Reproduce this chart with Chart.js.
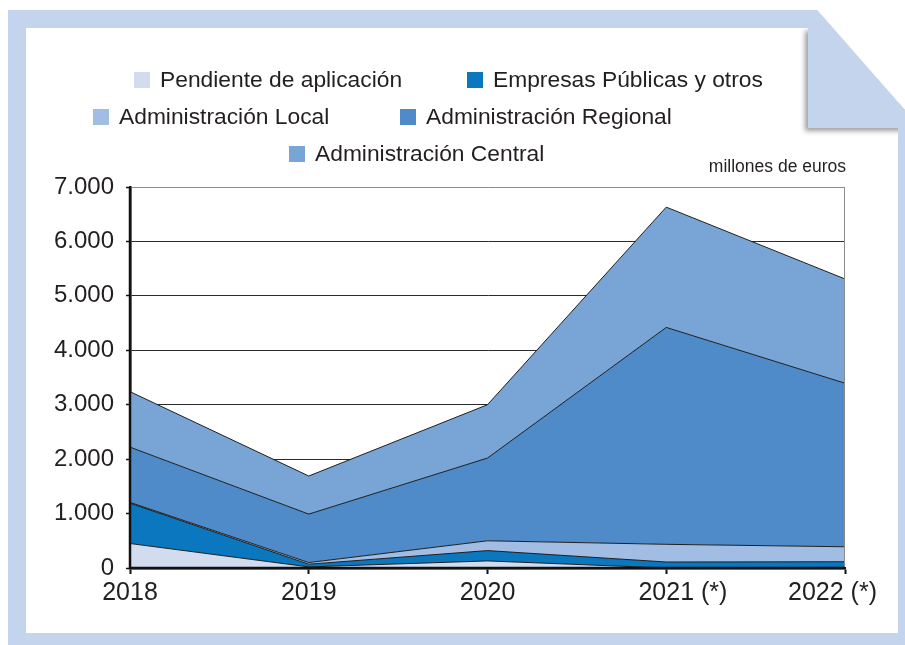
<!DOCTYPE html>
<html>
<head>
<meta charset="utf-8">
<script src="https://cdn.jsdelivr.net/npm/chart.js@4/dist/chart.umd.min.js"></script>
<style>
  html, body { margin: 0; padding: 0; background: #fff; }
  canvas { display: block; }
</style>
</head>
<body>
<canvas id="chart" width="905" height="645"></canvas>
<script>
// Years on the horizontal axis
const years = ['2018', '2019', '2020', '2021 (*)', '2022 (*)'];

// Series names, stacked from the bottom up
const seriesNames = [
  'Pendiente de aplicación',
  'Empresas Públicas y otros',
  'Administración Local',
  'Administración Regional',
  'Administración Central'
];

// Values per series, millones de euros
const pendiente = [450, 20, 130, 0, 0];
const empresas  = [740, 50, 190, 110, 115];
const local     = [15, 30, 180, 325, 275];
const regional  = [1015, 890, 1520, 3985, 3005];
const central   = [1020, 700, 980, 2210, 1915];

const seriesValues = [pendiente, empresas, local, regional, central];
const seriesColors = ['#d1ddef', '#0a77bf', '#a2bde3', '#4e8bc8', '#78a5d5'];

const unitLabel = 'millones de euros';
const yMax = 7000;
const yStep = 1000;

const FONT = '"Liberation Sans", Arial, sans-serif';
const INK = '#231f20';
const FRAME = '#c4d4ec';
const AXIS = '#111';

function thousands(v) {
  return String(v).replace(/\B(?=(\d{3})+(?!\d))/g, '.');
}

// Light-blue page frame with a folded top-right corner
const framePlugin = {
  id: 'frame',
  beforeDraw(chart) {
    const ctx = chart.ctx;
    ctx.save();
    ctx.fillStyle = '#fff';
    ctx.fillRect(0, 0, chart.width, chart.height);

    // outer page, corner cut along the diagonal
    ctx.fillStyle = FRAME;
    ctx.beginPath();
    ctx.moveTo(8, 10);
    ctx.lineTo(817, 10);
    ctx.lineTo(905, 110);
    ctx.lineTo(905, 645);
    ctx.lineTo(8, 645);
    ctx.closePath();
    ctx.fill();

    // white sheet
    ctx.fillStyle = '#fff';
    ctx.fillRect(26, 28, 872, 605);

    // folded flap with its soft shadow
    ctx.fillStyle = FRAME;
    ctx.save();
    ctx.shadowColor = 'rgba(40,40,40,0.45)';
    ctx.shadowBlur = 5;
    ctx.shadowOffsetX = -3;
    ctx.shadowOffsetY = 3;
    ctx.beginPath();
    ctx.moveTo(808, 28);
    ctx.lineTo(833, 28);
    ctx.lineTo(905, 110);
    ctx.lineTo(905, 128);
    ctx.lineTo(808, 128);
    ctx.closePath();
    ctx.fill();
    ctx.restore();

    // top band and right strip drawn again over the shadow edges
    ctx.beginPath();
    ctx.moveTo(8, 10);
    ctx.lineTo(817, 10);
    ctx.lineTo(833, 28);
    ctx.lineTo(8, 28);
    ctx.closePath();
    ctx.fill();
    ctx.fillRect(898, 128, 7, 517);
    ctx.restore();
  }
};

// Axis lines over the areas, right border, legend, unit caption and year labels
const decorPlugin = {
  id: 'decor',
  afterDatasetsDraw(chart) {
    const ctx = chart.ctx;
    const a = chart.chartArea;
    ctx.save();
    ctx.strokeStyle = '#8c8c8c';
    ctx.lineWidth = 1;
    ctx.beginPath();
    ctx.moveTo(a.right - 0.5, a.top);
    ctx.lineTo(a.right - 0.5, a.bottom);
    ctx.stroke();

    ctx.strokeStyle = AXIS;
    ctx.lineWidth = 2.5;
    ctx.beginPath();
    ctx.moveTo(a.left, a.top);
    ctx.lineTo(a.left, a.bottom);
    ctx.moveTo(a.left - 1.25, a.bottom);
    ctx.lineTo(a.right, a.bottom);
    ctx.stroke();
    ctx.restore();
  },
  afterDraw(chart) {
    const ctx = chart.ctx;
    const a = chart.chartArea;
    ctx.save();
    ctx.fillStyle = INK;

    // legend: two rows of two, then one
    const slots = [[134, 72], [467, 72], [93, 109], [400, 109], [289, 146]];
    ctx.font = '22.8px ' + FONT;
    ctx.textAlign = 'left';
    ctx.textBaseline = 'alphabetic';
    chart.data.datasets.forEach((ds, i) => {
      const [sx, sy] = slots[i];
      ctx.fillStyle = ds.backgroundColor;
      ctx.fillRect(sx, sy, 16, 16);
      ctx.fillStyle = INK;
      ctx.fillText(ds.label, sx + 26, sy + 15);
    });

    // unit caption
    ctx.font = '17.5px ' + FONT;
    ctx.textAlign = 'right';
    ctx.fillText(unitLabel, a.right + 1, 172);

    // year labels under the ticks
    const xs = chart.scales.x;
    ctx.font = '25px ' + FONT;
    ctx.textAlign = 'left';
    const limit = 877;
    chart.data.labels.forEach((lab, i) => {
      const px = xs.getPixelForValue(i);
      const sp = lab.indexOf(' ');
      const main = sp < 0 ? lab : lab.slice(0, sp);
      const rest = sp < 0 ? '' : lab.slice(sp);
      const wMain = ctx.measureText(main).width;
      const wRest = rest ? ctx.measureText(rest).width : 0;
      let start = px - wMain / 2;
      const end = start + wMain + wRest;
      if (end > limit) start -= end - limit;
      ctx.fillText(main + rest, start, 600);
    });
    ctx.restore();
  }
};

const datasets = seriesValues.map((vals, i) => ({
  label: seriesNames[i],
  data: vals,
  backgroundColor: seriesColors[i],
  borderColor: '#1e1e1e',
  borderWidth: 1,
  fill: i === 0 ? 'origin' : '-1',
  pointRadius: 0,
  tension: 0
}));

new Chart(document.getElementById('chart'), {
  type: 'line',
  data: { labels: years, datasets },
  options: {
    responsive: false,
    animation: false,
    devicePixelRatio: 1,
    layout: { padding: { left: 0, right: 60, top: 187, bottom: 0 } },
    plugins: {
      legend: { display: false },
      tooltip: { enabled: false }
    },
    scales: {
      x: {
        type: 'category',
        offset: false,
        grid: {
          drawOnChartArea: false,
          drawTicks: true,
          tickLength: 6,
          tickWidth: 2,
          tickColor: AXIS
        },
        border: { display: true, color: AXIS, width: 2.5 },
        ticks: { display: false },
        afterFit(s) { s.height = 77; s.paddingLeft = 0; s.paddingRight = 0; }
      },
      y: {
        stacked: true,
        min: 0,
        max: yMax,
        ticks: {
          stepSize: yStep,
          callback: (v) => thousands(v),
          font: { family: FONT, size: 24 },
          color: INK,
          padding: 12
        },
        grid: {
          color: (c) => (c.tick && c.tick.value === yMax ? '#8c8c8c' : '#2a2a2a'),
          lineWidth: 1,
          tickLength: 4,
          tickWidth: 1.5,
          tickColor: AXIS
        },
        border: { color: AXIS, width: 2.5 },
        afterFit(s) { s.width = 130; s.paddingTop = 0; s.paddingBottom = 0; }
      }
    }
  },
  plugins: [framePlugin, decorPlugin]
});
</script>
</body>
</html>
